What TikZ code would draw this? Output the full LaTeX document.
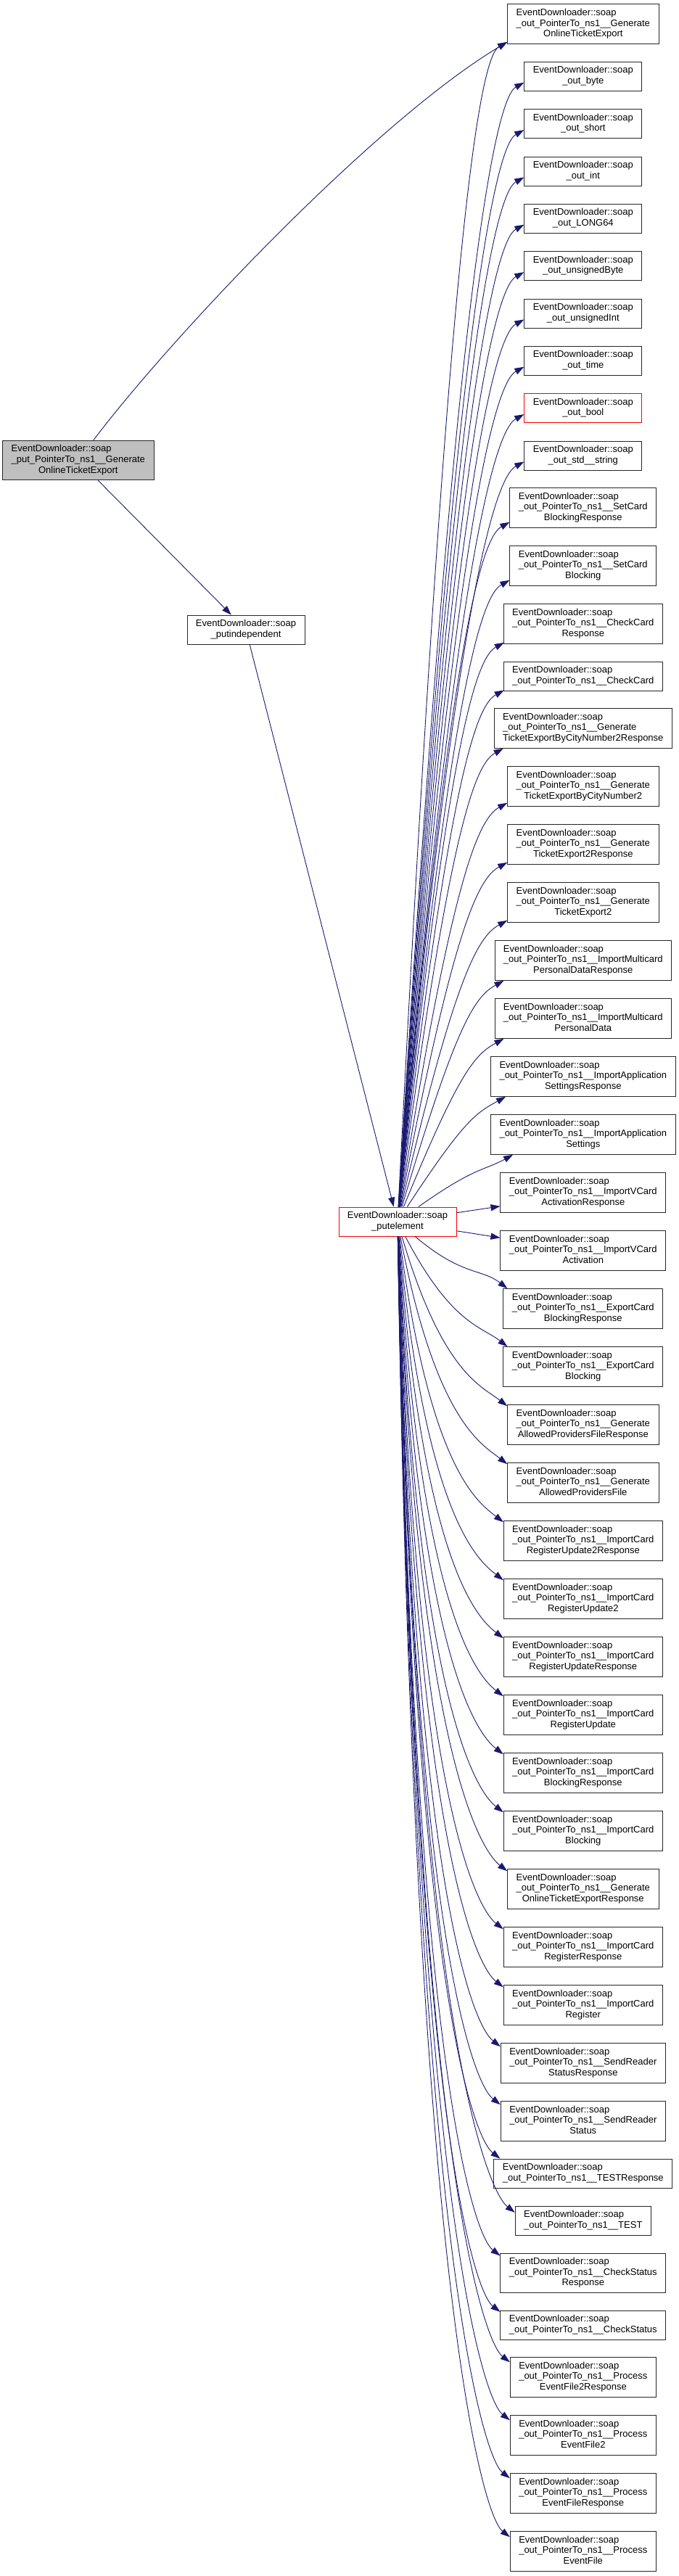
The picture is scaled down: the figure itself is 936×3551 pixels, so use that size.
\documentclass[tikz,border=0pt]{standalone}
\usepackage{fontspec}
\setmainfont{Liberation Sans}
\usetikzlibrary{arrows.meta,calc}
\definecolor{edgeblue}{HTML}{191970}
\definecolor{rootgrey}{HTML}{BFBFBF}
\newcommand\ltwo[2]{\begin{tabular}{@{}l@{}}#1\\\multicolumn{1}{@{}c@{}}{#2}\end{tabular}}
\newcommand\lthree[3]{\begin{tabular}{@{}l@{}}#1\\#2\\\multicolumn{1}{@{}c@{}}{#3}\end{tabular}}
\newcommand\edl{EventDownloader::soap}
\newcommand\ptn{\_out\_PointerTo\_ns1\_\_}
\newcommand\upedge[3]{%
  \path let \p1=(pe.center), \p2=($(#1.south west)+(#2,-#3)$) in
    coordinate (tp) at (\p2)
    coordinate (c1) at ({\x1+(0.45+0.3*exp(-abs(\y2-\y1)/300))*(\x2-\x1)},{\y1+0.82*(\y2-\y1)})
    coordinate (c2) at ($(\p2)+(-40,22)$);
  \draw[calledge] (pe) .. controls (c1) and (c2) .. (tp);
}
\newcommand\downedge[3]{%
  \path let \p1=(pe.center), \p2=($(#1.north west)+(#2,#3)$) in
    coordinate (tp) at (\p2)
    coordinate (c1) at ({\x1+(0.15+0.6*exp(-abs(\y2-\y1)/300))*(\x2-\x1)},{\y1+0.82*(\y2-\y1)})
    coordinate (c2) at ($(\p2)+(-36,-28)$);
  \draw[calledge] (pe) .. controls (c1) and (c2) .. (tp);
}
\begin{document}
\begin{tikzpicture}[x=1pt,y=-1pt,
  fnbox/.style={draw=black!85, line width=0.9pt, fill=white, inner xsep=12pt, inner ysep=0pt,
    font=\fontsize{13}{14.7}\selectfont, minimum height=40pt},
  fnbox3/.style={fnbox, minimum height=54.7pt},
  calledge/.style={draw=edgeblue, line width=0.9pt, -{Triangle[length=13pt,width=9pt]}}]
\useasboundingbox[fill=white] (0,0) rectangle (936,3551);

% left side
\node[fnbox3, fill=rootgrey] (root) at (107.8,634.5) {\lthree{\edl}{\_put\_PointerTo\_ns1\_\_Generate}{OnlineTicketExport}};
\node[fnbox] (pi) at (339,868) {\ltwo{\edl}{\_putindependent}};
\node[fnbox, draw=red] (pe) at (548,1684) {\ltwo{\edl}{\_putelement}};

% right column
\def\cx{803.8}
\node[fnbox3] (n01) at (\cx,33.2) {\lthree{\edl}{\ptn Generate}{OnlineTicketExport}};
\node[fnbox] (n02) at (\cx,105.3) {\ltwo{\edl}{\_out\_byte}};
\node[fnbox] (n03) at (\cx,170.7) {\ltwo{\edl}{\_out\_short}};
\node[fnbox] (n04) at (\cx,236) {\ltwo{\edl}{\_out\_int}};
\node[fnbox] (n05) at (\cx,301.3) {\ltwo{\edl}{\_out\_LONG64}};
\node[fnbox] (n06) at (\cx,366.7) {\ltwo{\edl}{\_out\_unsignedByte}};
\node[fnbox] (n07) at (\cx,432) {\ltwo{\edl}{\_out\_unsignedInt}};
\node[fnbox] (n08) at (\cx,497.3) {\ltwo{\edl}{\_out\_time}};
\node[fnbox, draw=red] (n09) at (\cx,562.7) {\ltwo{\edl}{\_out\_bool}};
\node[fnbox] (n10) at (\cx,628) {\ltwo{\edl}{\_out\_std\_\_string}};
\node[fnbox3] (n11) at (\cx,700) {\lthree{\edl}{\ptn SetCard}{BlockingResponse}};
\node[fnbox3] (n12) at (\cx,780) {\lthree{\edl}{\ptn SetCard}{Blocking}};
\node[fnbox3] (n13) at (\cx,860) {\lthree{\edl}{\ptn CheckCard}{Response}};
\node[fnbox] (n14) at (\cx,932) {\ltwo{\edl}{\ptn CheckCard}};
\node[fnbox3] (n15) at (\cx,1004) {\lthree{\edl}{\ptn Generate}{TicketExportByCityNumber2Response}};
\node[fnbox3] (n16) at (\cx,1084) {\lthree{\edl}{\ptn Generate}{TicketExportByCityNumber2}};
\node[fnbox3] (n17) at (\cx,1164) {\lthree{\edl}{\ptn Generate}{TicketExport2Response}};
\node[fnbox3] (n18) at (\cx,1244) {\lthree{\edl}{\ptn Generate}{TicketExport2}};
\node[fnbox3] (n19) at (\cx,1324) {\lthree{\edl}{\ptn ImportMulticard}{PersonalDataResponse}};
\node[fnbox3] (n20) at (\cx,1404) {\lthree{\edl}{\ptn ImportMulticard}{PersonalData}};
\node[fnbox3] (n21) at (\cx,1484) {\lthree{\edl}{\ptn ImportApplication}{SettingsResponse}};
\node[fnbox3] (n22) at (\cx,1564) {\lthree{\edl}{\ptn ImportApplication}{Settings}};
\node[fnbox3] (n23) at (\cx,1644) {\lthree{\edl}{\ptn ImportVCard}{ActivationResponse}};
\node[fnbox3] (n24) at (\cx,1724) {\lthree{\edl}{\ptn ImportVCard}{Activation}};
\node[fnbox3] (n25) at (\cx,1804) {\lthree{\edl}{\ptn ExportCard}{BlockingResponse}};
\node[fnbox3] (n26) at (\cx,1884) {\lthree{\edl}{\ptn ExportCard}{Blocking}};
\node[fnbox3] (n27) at (\cx,1964) {\lthree{\edl}{\ptn Generate}{AllowedProvidersFileResponse}};
\node[fnbox3] (n28) at (\cx,2044) {\lthree{\edl}{\ptn Generate}{AllowedProvidersFile}};
\node[fnbox3] (n29) at (\cx,2124) {\lthree{\edl}{\ptn ImportCard}{RegisterUpdate2Response}};
\node[fnbox3] (n30) at (\cx,2204) {\lthree{\edl}{\ptn ImportCard}{RegisterUpdate2}};
\node[fnbox3] (n31) at (\cx,2284) {\lthree{\edl}{\ptn ImportCard}{RegisterUpdateResponse}};
\node[fnbox3] (n32) at (\cx,2364) {\lthree{\edl}{\ptn ImportCard}{RegisterUpdate}};
\node[fnbox3] (n33) at (\cx,2444) {\lthree{\edl}{\ptn ImportCard}{BlockingResponse}};
\node[fnbox3] (n34) at (\cx,2524) {\lthree{\edl}{\ptn ImportCard}{Blocking}};
\node[fnbox3] (n35) at (\cx,2604) {\lthree{\edl}{\ptn Generate}{OnlineTicketExportResponse}};
\node[fnbox3] (n36) at (\cx,2684) {\lthree{\edl}{\ptn ImportCard}{RegisterResponse}};
\node[fnbox3] (n37) at (\cx,2764) {\lthree{\edl}{\ptn ImportCard}{Register}};
\node[fnbox3] (n38) at (\cx,2844) {\lthree{\edl}{\ptn SendReader}{StatusResponse}};
\node[fnbox3] (n39) at (\cx,2924) {\lthree{\edl}{\ptn SendReader}{Status}};
\node[fnbox] (n40) at (\cx,2996) {\ltwo{\edl}{\ptn TESTResponse}};
\node[fnbox] (n41) at (\cx,3061.3) {\ltwo{\edl}{\ptn TEST}};
\node[fnbox3] (n42) at (\cx,3133.3) {\lthree{\edl}{\ptn CheckStatus}{Response}};
\node[fnbox] (n43) at (\cx,3205.3) {\ltwo{\edl}{\ptn CheckStatus}};
\node[fnbox3] (n44) at (\cx,3277) {\lthree{\edl}{\ptn Process}{EventFile2Response}};
\node[fnbox3] (n45) at (\cx,3357) {\lthree{\edl}{\ptn Process}{EventFile2}};
\node[fnbox3] (n46) at (\cx,3437) {\lthree{\edl}{\ptn Process}{EventFileResponse}};
\node[fnbox3] (n47) at (\cx,3517) {\lthree{\edl}{\ptn Process}{EventFile}};

% edges from the root
\draw[calledge] (root) .. controls (240,460) and (520,165) .. ($(n01.south west)+(0,-3)$);
\draw[calledge] (root) -- (pi);
\draw[calledge] (pi) -- (pe);

% edges from putelement, upwards
\upedge{n01}{0}{3}
\upedge{n02}{0}{12}
\upedge{n03}{0}{12}
\upedge{n04}{0}{12}
\upedge{n05}{0}{12}
\upedge{n06}{0}{12}
\upedge{n07}{0}{12}
\upedge{n08}{0}{12}
\upedge{n09}{0}{12}
\upedge{n10}{0}{12}
\upedge{n11}{0}{8}
\upedge{n12}{0}{8}
\upedge{n13}{1}{2}
\upedge{n14}{1}{1}
\upedge{n15}{13}{0}
\upedge{n16}{0}{5}
\upedge{n17}{0}{3}
\upedge{n18}{0}{3}
\upedge{n19}{13}{0}
\upedge{n20}{13}{0}
\upedge{n21}{21}{0}
\upedge{n22}{31}{0}
\draw[calledge] (pe) -- ($(n23.south west)+(0,-9)$);
\draw[calledge] (pe) -- ($(n24.north west)+(0,10)$);
% downwards
\downedge{n25}{6}{0}
\downedge{n26}{6}{0}
\downedge{n27}{0}{2}
\downedge{n28}{0}{2}
\downedge{n29}{0}{2}
\downedge{n30}{0}{2}
\downedge{n31}{0}{2}
\downedge{n32}{0}{2}
\downedge{n33}{0}{2}
\downedge{n34}{0}{2}
\downedge{n35}{0}{3}
\downedge{n36}{0}{3}
\downedge{n37}{0}{3}
\downedge{n38}{0}{5}
\downedge{n39}{0}{5}
\downedge{n40}{9}{0}
\downedge{n41}{0}{9}
\downedge{n42}{0}{4}
\downedge{n43}{0}{2}
\downedge{n44}{0}{7}
\downedge{n45}{0}{7}
\downedge{n46}{0}{7}
\downedge{n47}{0}{8}
\end{tikzpicture}
\end{document}
